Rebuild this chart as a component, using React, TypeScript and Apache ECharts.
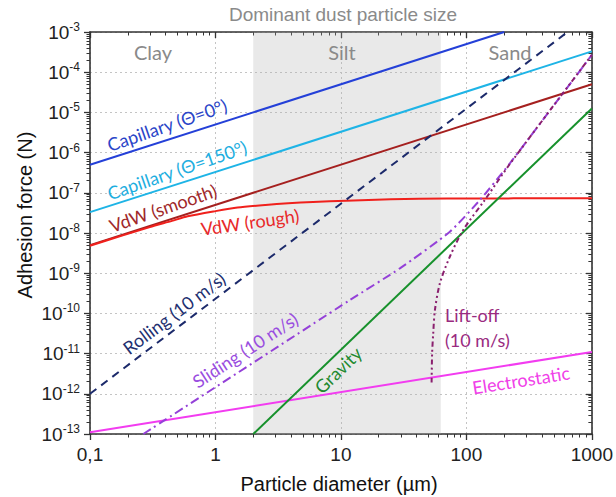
import React, { useEffect, useRef } from "react";
import * as echarts from "echarts";

// ---- axis ranges & tick labels ----
const xRange = [0.1, 1000];
const yRange = [1e-13, 1e-3];
const xTickLabels = ["0,1", "1", "10", "100", "1000"];
const siltRange = [2, 62.5];

// ---- series data (diameter in µm, force in N) ----
const capillary0D = [0.1, 200];
const capillary0F = [5e-7, 1e-3];
const capillary150D = [0.1, 1000];
const capillary150F = [3.3e-8, 3.3e-4];
const vdwSmoothD = [0.1, 1000];
const vdwSmoothF = [5e-9, 5e-5];
const vdwRoughD = [0.1, 0.18, 0.3, 0.45, 0.6, 1, 1.5, 2.5, 3.8, 6, 11, 25, 70, 1000];
const vdwRoughF = [4.8e-9, 8.6e-9, 1.4e-8, 2.0e-8, 2.6e-8, 3.5e-8, 4.3e-8, 5.0e-8, 5.5e-8, 5.9e-8, 6.35e-8, 6.9e-8, 7.2e-8, 7.3e-8];
const rollingD = [0.1, 640];
const rollingF = [1e-12, 1e-3];
const slidingD = [0.266, 11.8, 29.5, 73.9, 128, 222, 1000];
const slidingF = [1e-13, 2.15e-10, 1.32e-9, 1.08e-8, 6.6e-8, 5.4e-7, 2.7e-4];
const gravityD = [2, 1000];
const gravityF = [1e-13, 1.25e-5];
const electroD = [0.1, 1000];
const electroF = [1.1e-13, 1.1e-11];
const liftoffD = [52.8, 53.3, 54.4, 56.1, 61.5, 73.9, 94.4, 140, 222, 1000];
const liftoffF = [1.9e-12, 1e-11, 3.2e-11, 1.2e-10, 5.6e-10, 2.6e-9, 1.19e-8, 6.6e-8, 5.2e-7, 2.7e-4];

const zip = (a: number[], b: number[]) => a.map((v, i) => [v, b[i]]);

const minorVals = (lo: number, hi: number) => {
  const out: number[] = [];
  for (let e = lo; e < hi; e++)
    for (let k = 2; k <= 9; k++) out.push(Number((k * Math.pow(10, e)).toPrecision(3)));
  return out;
};

const AXIS_COLOR = "#333";
const GRID = { left: 90, right: 24, top: 32, bottom: 63 };

export default function App() {
  const ref = useRef<HTMLDivElement>(null);

  useEffect(() => {
    if (!ref.current) return;
    const chart = echarts.init(ref.current, null, { renderer: "svg" });

    const xMinor = minorVals(-1, 3);
    const yMinor = minorVals(-13, -3);

    const xBase: any = { type: "log", logBase: 10, min: xRange[0], max: xRange[1], gridIndex: 0 };
    const yBase: any = { type: "log", logBase: 10, min: yRange[0], max: yRange[1], gridIndex: 0, splitNumber: 10 };
    const lineSt = { color: AXIS_COLOR, width: 1.6 };
    const tickSt = { color: AXIS_COLOR, width: 1.3 };
    const minorSt = { color: AXIS_COLOR, width: 1 };
    const hidden = { show: false };

    const xAxis = [
      {
        ...xBase,
        position: "bottom",
        axisLine: { show: true, lineStyle: lineSt },
        axisTick: { show: true, inside: false, length: 6, lineStyle: tickSt },
        axisLabel: {
          show: true,
          margin: 11,
          fontSize: 19,
          color: "#222",
          fontFamily: "Liberation Sans, Arial, sans-serif",
          formatter: (v: number) => xTickLabels[Math.round(Math.log10(v)) + 1] ?? "",
        },
        splitLine: { show: true, lineStyle: { color: "#c4c4c4", type: [2, 3], width: 1 } },
      },
      {
        ...xBase,
        position: "bottom",
        axisLine: hidden,
        axisTick: { show: true, inside: false, length: 3.5, lineStyle: minorSt, customValues: xMinor },
        axisLabel: hidden,
        splitLine: hidden,
      },
      {
        ...xBase,
        position: "top",
        axisLine: { show: true, lineStyle: lineSt },
        axisTick: { show: true, inside: true, length: 6, lineStyle: tickSt },
        axisLabel: hidden,
        splitLine: hidden,
      },
      {
        ...xBase,
        position: "top",
        axisLine: hidden,
        axisTick: { show: true, inside: true, length: 3.5, lineStyle: minorSt, customValues: xMinor },
        axisLabel: hidden,
        splitLine: hidden,
      },
    ];

    const yAxis = [
      {
        ...yBase,
        position: "left",
        axisLine: { show: true, lineStyle: lineSt },
        axisTick: { show: true, inside: false, length: 6, lineStyle: tickSt },
        axisLabel: {
          show: true,
          margin: 10,
          color: "#222",
          fontFamily: "Liberation Sans, Arial, sans-serif",
          formatter: (v: number) => `{b|10}{s|${Math.round(Math.log10(v))}}`,
          rich: {
            b: { fontSize: 19, lineHeight: 22, color: "#222", fontFamily: "Liberation Sans, Arial, sans-serif" },
            s: { fontSize: 12, lineHeight: 12, verticalAlign: "top", color: "#222", fontFamily: "Liberation Sans, Arial, sans-serif" },
          },
        },
        splitLine: { show: true, lineStyle: { color: "#c4c4c4", type: [2, 3], width: 1 } },
      },
      {
        ...yBase,
        position: "left",
        axisLine: hidden,
        axisTick: { show: true, inside: false, length: 3.5, lineStyle: minorSt, customValues: yMinor },
        axisLabel: hidden,
        splitLine: hidden,
      },
      {
        ...yBase,
        position: "right",
        axisLine: { show: true, lineStyle: lineSt },
        axisTick: { show: true, inside: true, length: 6, lineStyle: tickSt },
        axisLabel: hidden,
        splitLine: hidden,
      },
      {
        ...yBase,
        position: "right",
        axisLine: hidden,
        axisTick: { show: true, inside: true, length: 3.5, lineStyle: minorSt, customValues: yMinor },
        axisLabel: hidden,
        splitLine: hidden,
      },
    ];

    const mk = (name: string, data: number[][], color: string, type: any, smooth: any = false, width = 2) => ({
      type: "line",
      name,
      data,
      xAxisIndex: 0,
      yAxisIndex: 0,
      showSymbol: false,
      symbol: "none",
      smooth,
      z: 3,
      lineStyle: { color, width, type },
    });

    const series: any[] = [
      {
        ...mk("Electrostatic", zip(electroD, electroF), "#f23cf0", "solid"),
        markArea: {
          silent: true,
          itemStyle: { color: "rgba(175,175,175,0.27)" },
          data: [[{ xAxis: siltRange[0] }, { xAxis: siltRange[1] }]],
        },
      },
      mk("Capillary (Θ=0°)", zip(capillary0D, capillary0F), "#2440d8", "solid"),
      mk("Capillary (Θ=150°)", zip(capillary150D, capillary150F), "#1eb4e6", "solid"),
      mk("VdW (smooth)", zip(vdwSmoothD, vdwSmoothF), "#a5201f", "solid"),
      mk("VdW (rough)", zip(vdwRoughD, vdwRoughF), "#f0201c", "solid", 0.25),
      mk("Rolling (10 m/s)", zip(rollingD, rollingF), "#1c2a6b", [8, 6]),
      mk("Gravity", zip(gravityD, gravityF), "#17912c", "solid"),
      mk("Sliding (10 m/s)", zip(slidingD, slidingF), "#9440d8", [9, 4, 2, 4], 0.2),
      mk("Lift-off (10 m/s)", zip(liftoffD, liftoffF), "#8a1f6e", [5, 3, 2, 3, 2, 3], 0.3),
    ];

    const deg = Math.PI / 180;
    const lab = (text: string, x: number, y: number, color: string, angle = 0, size = 18, align = "center") => ({
      type: "text",
      x,
      y,
      rotation: angle * deg,
      z: 10,
      style: {
        text,
        fill: color,
        font: `${size}px Lato, "Open Sans", sans-serif`,
        textAlign: align,
        textVerticalAlign: "middle",
      },
    });

    const graphic: any[] = [
      {
        type: "text",
        x: 343,
        y: 14,
        style: {
          text: "Dominant dust particle size",
          fill: "#8a8a8a",
          font: '19px "Liberation Sans", Arial, sans-serif',
          textAlign: "center",
          textVerticalAlign: "middle",
        },
      },
      {
        type: "text",
        x: 339,
        y: 484,
        style: {
          text: "Particle diameter (µm)",
          fill: "#111",
          font: '20px "Liberation Sans", Arial, sans-serif',
          textAlign: "center",
          textVerticalAlign: "middle",
        },
      },
      {
        type: "text",
        x: 25,
        y: 215,
        rotation: 90 * deg,
        style: {
          text: "Adhesion force (N)",
          fill: "#111",
          font: '20px "Liberation Sans", Arial, sans-serif',
          textAlign: "center",
          textVerticalAlign: "middle",
        },
      },
      lab("Clay", 153, 52, "#8a8a8a", 0, 20),
      lab("Silt", 342, 52, "#8a8a8a", 0, 20),
      lab("Sand", 510, 52, "#8a8a8a", 0, 20),
      lab("Capillary (Θ=0°)", 167, 125, "#2a45c8", 19),
      lab("Capillary (Θ=150°)", 177, 170, "#1eaee0", 19),
      lab("VdW (smooth)", 163, 208, "#a0282a", 19),
      lab("VdW (rough)", 250, 222, "#e82a2a", 8),
      lab("Rolling (10 m/s)", 174, 313, "#223070", 37),
      lab("Sliding (10 m/s)", 245, 350, "#9a4ee0", 33),
      lab("Gravity", 338, 370, "#1f8a30", 44),
      lab("Electrostatic", 521, 380, "#f040e8", 9),
      lab("Lift-off", 445, 315, "#9a2a80", 0, 18, "left"),
      lab("(10 m/s)", 445, 340, "#9a2a80", 0, 18, "left"),
    ];

    chart.setOption({
      animation: false,
      backgroundColor: "#ffffff",
      grid: { ...GRID, containLabel: false },
      xAxis,
      yAxis,
      series,
      graphic,
    });

    return () => chart.dispose();
  }, []);

  return (
    <div
      ref={ref}
      style={{ position: "fixed", left: 0, top: 0, width: 616, height: 497, background: "#fff" }}
    />
  );
}
